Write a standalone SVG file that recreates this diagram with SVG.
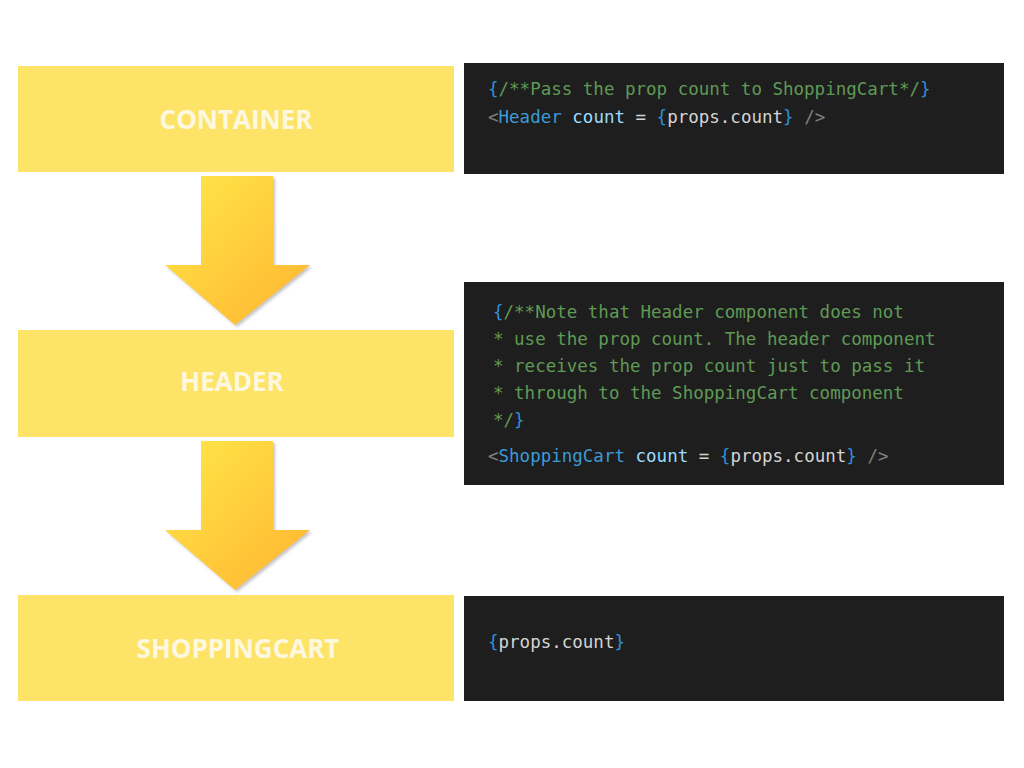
<svg xmlns="http://www.w3.org/2000/svg" width="1024" height="768" viewBox="0 0 1024 768">
<style>
.yb{fill:#fde468}
.db{fill:#1e1e1e}
.lbl{font-family:"Open Sans","Liberation Sans",sans-serif;font-weight:bold;font-size:26px;fill:#fff8e0;text-anchor:middle}
.code{font-family:"DejaVu Sans Mono","Liberation Mono",monospace;font-size:17.5px;fill:#d4d4d4}
.c{fill:#5f9a55}.b{fill:#2f8fd8}.t{fill:#3c9ad6}.a{fill:#9cdcfe}.p{fill:#808080}
</style>
<defs>
<linearGradient id="ag" x1="0" y1="0" x2="1" y2="1">
<stop offset="0" stop-color="#ffe94a"/><stop offset="0.6" stop-color="#ffc83a"/><stop offset="1" stop-color="#ffb52f"/>
</linearGradient>
<filter id="sh"><feDropShadow dx="2" dy="2" stdDeviation="1.5" flood-color="#888" flood-opacity="0.5"/></filter>
</defs>
<rect width="1024" height="768" fill="#fff"/>
<g id="container"><rect class="yb" x="18" y="66" width="436" height="106"/><text class="lbl" x="236" y="129">CONTAINER</text></g>
<g id="header"><rect class="yb" x="18" y="330" width="436" height="107"/><text class="lbl" x="232" y="391">HEADER</text></g>
<g id="shoppingcart"><rect class="yb" x="18" y="595" width="436" height="106"/><text class="lbl" x="238" y="658">SHOPPINGCART</text></g>
<g id="connectors">
<path d="M201 176H273V265H310L235 325L165 265H201Z" fill="url(#ag)" filter="url(#sh)"/>
<path d="M201 441H273V530H310L235 590L165 530H201Z" fill="url(#ag)" filter="url(#sh)"/>
</g>
<g id="code1"><rect class="db" x="464" y="63" width="540" height="111"/>
<text class="code" x="488" y="95"><tspan class="b">{</tspan><tspan class="c">/**Pass the prop count to ShoppingCart*/</tspan><tspan class="b">}</tspan></text>
<text class="code" x="488" y="123"><tspan class="p">&lt;</tspan><tspan class="t">Header</tspan> <tspan class="a">count</tspan> = <tspan class="b">{</tspan>props.count<tspan class="b">}</tspan> <tspan class="p">/&gt;</tspan></text>
</g>
<g id="code2"><rect class="db" x="464" y="282" width="540" height="203"/>
<text class="code" x="493" y="318"><tspan class="b">{</tspan><tspan class="c">/**Note that Header component does not</tspan></text>
<text class="code c" x="493" y="345"> * use the prop count. The header component</text>
<text class="code c" x="493" y="372"> * receives the prop count just to pass it</text>
<text class="code c" x="493" y="399"> * through to the ShoppingCart component</text>
<text class="code" x="493" y="426"><tspan class="c">*/</tspan><tspan class="b">}</tspan></text>
<text class="code" x="488" y="462"><tspan class="p">&lt;</tspan><tspan class="t">ShoppingCart</tspan> <tspan class="a">count</tspan> = <tspan class="b">{</tspan>props.count<tspan class="b">}</tspan> <tspan class="p">/&gt;</tspan></text>
</g>
<g id="code3"><rect class="db" x="464" y="596" width="540" height="105"/>
<text class="code" x="488" y="648"><tspan class="b">{</tspan>props.count<tspan class="b">}</tspan></text>
</g>
</svg>
